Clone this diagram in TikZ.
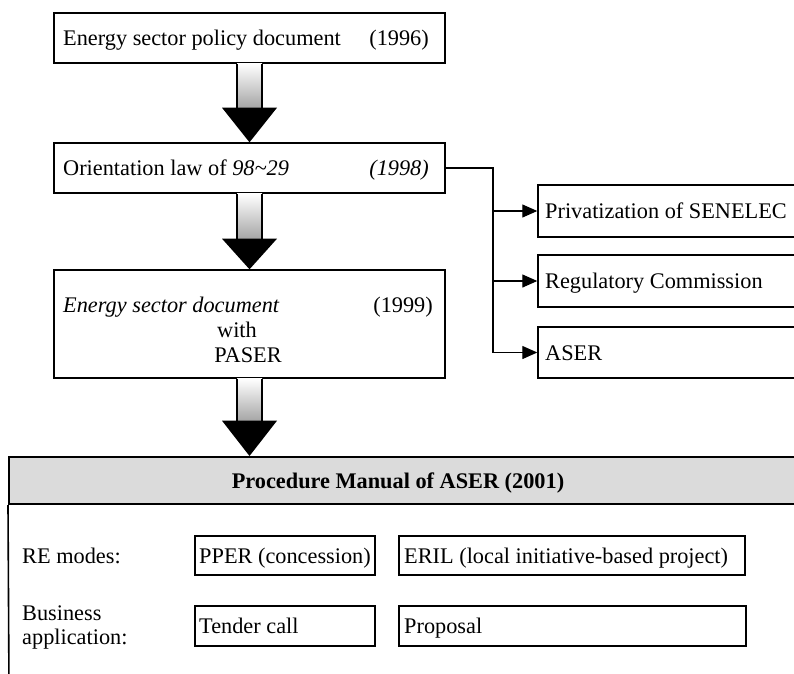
\documentclass[tikz,border=0pt]{standalone}
\usepackage{fontspec}
\setmainfont{Liberation Serif}
\usetikzlibrary{calc,arrows.meta}
\begin{document}
\begin{tikzpicture}[x=1pt,y=-1pt,
  font=\fontsize{22.3}{26}\selectfont,
  box/.style={draw, line width=1.4pt, rectangle, inner sep=0pt},
  txt/.style={inner sep=0pt, anchor=base west},
  txtr/.style={inner sep=0pt, anchor=base east},
  txtc/.style={inner sep=0pt, anchor=base},
  conn/.style={line width=1.2pt},
  tip/.style={conn, -{Triangle[length=15pt,width=13pt]}}]
\useasboundingbox (0,0) rectangle (794,673);
\clip (0,0) rectangle (794,673);

% left column boxes
\node[box, minimum width=391pt, minimum height=50pt] (b1) at (249.5,38) {};
\node[box, minimum width=391pt, minimum height=50pt] (b2) at (249.5,168) {};
\node[box, minimum width=391pt, minimum height=108pt] (b3) at (249.5,324) {};

\node[txt] (t1) at (63,45.5) {Energy sector policy document};
\node[txtr] (y1) at (429,45.5) {(1996)};
\node[txt] (t2) at (63,175.5) {Orientation law of \textit{98\textasciitilde29}};
\node[txtr] (y2) at (429,175.5) {\textit{(1998)}};
\node[txt] (t3) at (63,312) {\textit{Energy sector document}};
\node[txtr] (y3) at (433,312) {(1999)};
\node[txtc] (t3b) at (237,337) {with};
\node[txtc] (t3c) at (248,362) {PASER};

% right boxes
\node[box, minimum width=272pt, minimum height=52pt] (r1) at (674,211) {};
\node[box, minimum width=272pt, minimum height=52pt] (r2) at (674,281) {};
\node[box, minimum width=272pt, minimum height=51pt] (r3) at (674,352.5) {};
\node[txt] (rt1) at (545,218.5) {Privatization of SENELEC};
\node[txt] (rt2) at (545,288.5) {Regulatory Commission};
\node[txt] (rt3) at (545,360) {ASER};

% connector
\coordinate (jt) at (493,168);
\draw[conn] (b2.east) -- (jt) -- (jt |- r1.west);
\draw[tip] (jt |- r1.west) -- (r1.west);
\draw[tip] (jt |- r2.west) -- (r2.west);
\draw[conn] (jt |- r1.west) -- (jt |- r3.west);
\draw[tip] (jt |- r3.west) -- (r3.west);

% manual
\node[box, line width=2pt, fill=gray!28, minimum width=811pt, minimum height=47pt] (hdr) at (414.5,480.5) {};
\node[inner sep=0pt, anchor=base] (ht) at (398,488) {\textbf{Procedure Manual of ASER (2001)}};
\coordinate (mb) at (9,690);
\draw[line width=1.6pt] (hdr.south west) -- (mb);

\node[txt] (re) at (22,563.5) {RE modes:};
\node[txt] (bu1) at (22,620) {Business};
\node[txt] (bu2) at (22,644) {application:};

\node[box, minimum width=180pt, minimum height=39pt] (p1) at (285,555.5) {};
\node[box, minimum width=346pt, minimum height=39pt] (p2) at (572,555.5) {};
\node[box, minimum width=180pt, minimum height=40pt] (p3) at (285,626) {};
\node[box, minimum width=347pt, minimum height=40pt] (p4) at (572.5,626) {};
\node[txt] (pt1) at (199,563) {PPER (concession)};
\node[txt] (pt2) at (404,563) {ERIL (local initiative-based project)};
\node[txt] (pt3) at (199,633.5) {Tender call};
\node[txt] (pt4) at (404,633.5) {Proposal};

% big arrows
\newcommand{\bigarr}[3]{%
  \shade[top color=white, middle color=white, bottom color=gray!70]
    ($(#1.south)+(-12.5,0)$) rectangle ($(#1.south)+(12.5,#3)$);
  \draw[line width=1.4pt] ($(#1.south)+(-12.5,0)$) -- ($(#1.south)+(-12.5,#3)$);
  \draw[line width=1.4pt] ($(#1.south)+(12.5,0)$) -- ($(#1.south)+(12.5,#3)$);
  \fill ($(#1.south)+(-27.5,#3)$) -- ($(#1.south)+(27.5,#3)$) -- (#2.north -| #1.south) -- cycle;}
\bigarr{b1}{b2}{44}
\bigarr{b2}{b3}{45}
\bigarr{b3}{hdr}{42}
\end{tikzpicture}
\end{document}
